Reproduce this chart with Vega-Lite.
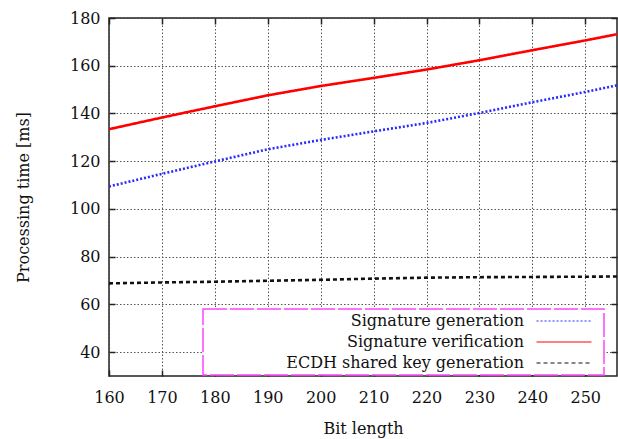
{
  "$schema": "https://vega.github.io/schema/vega-lite/v6.json",
  "width": 508,
  "height": 358,
  "autosize": "none",
  "padding": {"left": 109, "top": 18, "right": 1, "bottom": 63},
  "background": "white",
  "config": {
    "font": "DejaVu Serif",
    "view": {"stroke": "#222", "strokeWidth": 1.5},
    "axis": {
      "labelFont": "DejaVu Serif",
      "titleFont": "DejaVu Serif",
      "labelFontSize": 16,
      "titleFontSize": 16,
      "titleFontWeight": "normal",
      "labelColor": "#111",
      "titleColor": "#111",
      "labelFlush": false,
      "domain": false,
      "tickColor": "#222",
      "tickWidth": 1.5,
      "tickSize": -6,
      "gridColor": "#444",
      "gridDash": [1.5, 2],
      "gridWidth": 1,
      "gridOpacity": 0.9
    },
    "legend": {
      "labelFont": "DejaVu Serif",
      "labelFontSize": 16,
      "labelColor": "#111",
      "strokeWidth": 1.5,
      "strokeDash": [24, 3]
    }
  },
  "data": {
    "values": [
      {"bits": 160, "series": "Signature generation", "time": 109.4},
      {"bits": 170, "series": "Signature generation", "time": 114.7},
      {"bits": 180, "series": "Signature generation", "time": 119.9},
      {"bits": 190, "series": "Signature generation", "time": 125.0},
      {"bits": 200, "series": "Signature generation", "time": 128.9},
      {"bits": 210, "series": "Signature generation", "time": 132.5},
      {"bits": 220, "series": "Signature generation", "time": 136.0},
      {"bits": 230, "series": "Signature generation", "time": 140.2},
      {"bits": 240, "series": "Signature generation", "time": 144.7},
      {"bits": 250, "series": "Signature generation", "time": 149.0},
      {"bits": 256, "series": "Signature generation", "time": 151.8},
      {"bits": 160, "series": "Signature verification", "time": 133.4},
      {"bits": 170, "series": "Signature verification", "time": 138.3},
      {"bits": 180, "series": "Signature verification", "time": 143.0},
      {"bits": 190, "series": "Signature verification", "time": 147.6},
      {"bits": 200, "series": "Signature verification", "time": 151.5},
      {"bits": 210, "series": "Signature verification", "time": 154.9},
      {"bits": 220, "series": "Signature verification", "time": 158.4},
      {"bits": 230, "series": "Signature verification", "time": 162.3},
      {"bits": 240, "series": "Signature verification", "time": 166.5},
      {"bits": 250, "series": "Signature verification", "time": 170.6},
      {"bits": 256, "series": "Signature verification", "time": 173.2},
      {"bits": 160, "series": "ECDH shared key generation", "time": 68.8},
      {"bits": 170, "series": "ECDH shared key generation", "time": 69.2},
      {"bits": 180, "series": "ECDH shared key generation", "time": 69.5},
      {"bits": 190, "series": "ECDH shared key generation", "time": 69.9},
      {"bits": 200, "series": "ECDH shared key generation", "time": 70.3},
      {"bits": 210, "series": "ECDH shared key generation", "time": 70.8},
      {"bits": 220, "series": "ECDH shared key generation", "time": 71.2},
      {"bits": 230, "series": "ECDH shared key generation", "time": 71.4},
      {"bits": 240, "series": "ECDH shared key generation", "time": 71.5},
      {"bits": 250, "series": "ECDH shared key generation", "time": 71.6},
      {"bits": 256, "series": "ECDH shared key generation", "time": 71.7}
    ]
  },
  "layer": [
    {
      "mark": {"type": "line", "clip": true, "strokeWidth": 2.6},
      "encoding": {
        "x": {
          "field": "bits", "type": "quantitative",
          "scale": {"domain": [160, 256], "nice": false, "zero": false},
          "axis": {"orient": "bottom", "title": "Bit length", "values": [160,170,180,190,200,210,220,230,240,250], "labelPadding": 19, "titlePadding": 15, "grid": true}
        },
        "y": {
          "field": "time", "type": "quantitative",
          "scale": {"domain": [30, 180], "nice": false, "zero": false},
          "axis": {"orient": "left", "title": "Processing time [ms]", "values": [40,60,80,100,120,140,160,180], "labelPadding": 15, "titlePadding": 38, "grid": true}
        },
        "color": {
          "field": "series", "type": "nominal",
          "scale": {
            "domain": ["Signature generation", "Signature verification", "ECDH shared key generation"],
            "range": ["#2a2aff", "#ff0000", "#111111"]
          },
          "legend": {
            "title": null,
            "orient": "none",
            "legendX": 94,
            "legendY": 291,
            "symbolType": "M-6,0H6M7.2,0",
            "symbolSize": 84,
            "symbolStrokeWidth": 1.2,
            "symbolOffset": 349,
            "labelAlign": "right",
            "labelOffset": -48,
            "labelLimit": 0,
            "rowPadding": 5,
            "padding": 4,
            "strokeColor": "#ff44ff",
            "fillColor": "white",
            "encode": {
              "symbols": {"update": {"strokeWidth": {"value": 1.2}, "fill": {"value": "transparent"}}}
            }
          }
        },
        "strokeDash": {
          "field": "series", "type": "nominal",
          "scale": {
            "domain": ["Signature generation", "Signature verification", "ECDH shared key generation"],
            "range": [[2, 2], [1, 0], [4, 3]]
          },
          "legend": null
        }
      }
    },
    {
      "mark": {"type": "line", "opacity": 0},
      "encoding": {
        "x": {
          "field": "bits", "type": "quantitative",
          "axis": {"orient": "top", "title": null, "labels": false, "grid": false, "values": [160,170,180,190,200,210,220,230,240,250]}
        },
        "y": {
          "field": "time", "type": "quantitative",
          "axis": {"orient": "right", "title": null, "labels": false, "grid": false, "values": [40,60,80,100,120,140,160,180]}
        },
        "detail": {"field": "series"}
      }
    }
  ],
  "resolve": {"axis": {"x": "independent", "y": "independent"}}
}
